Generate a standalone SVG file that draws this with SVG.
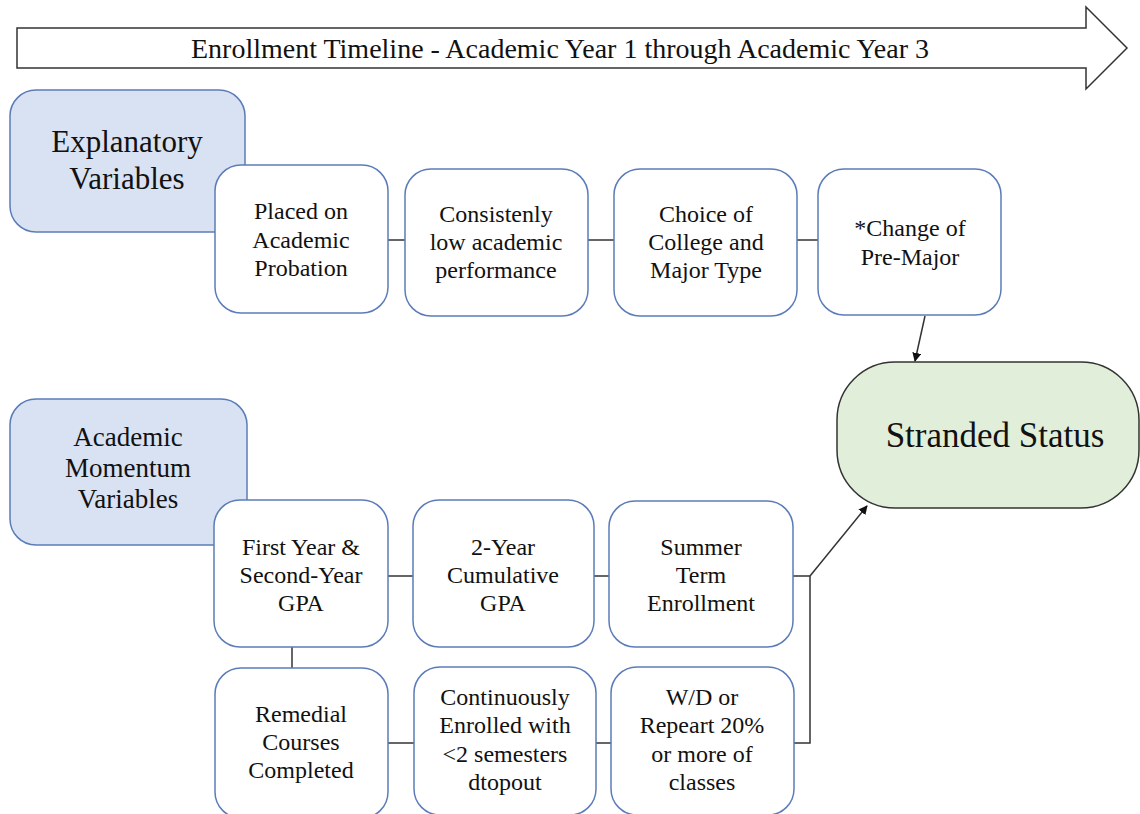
<svg xmlns="http://www.w3.org/2000/svg" width="1140" height="814" viewBox="0 0 1140 814">
  <style>
    .lbl { font-family: "Liberation Serif", "Times New Roman", Times, serif; fill: #111; text-anchor: middle; }
    .box { fill: #ffffff; stroke: #5b7cb8; stroke-width: 1.5; }
    .head { fill: #d9e2f2; stroke: #5b7cb8; stroke-width: 1.5; }
    .goal { fill: #e1eed9; stroke: #333333; stroke-width: 1.5; }
    .link { fill: none; stroke: #333333; stroke-width: 1.5; }
  </style>
  <defs>
    <marker id="arrow" viewBox="0 0 10 10" refX="9" refY="5" markerWidth="9" markerHeight="9" orient="auto" markerUnits="userSpaceOnUse">
      <path d="M0,0 L10,5 L0,10 Z" fill="#111"/>
    </marker>
  </defs>
  <rect width="1140" height="814" fill="#ffffff"/>

  <!-- timeline arrow -->
  <g id="timeline">
    <path d="M17,28 H1086 V7 L1127,48 L1086,89 V68 H17 Z" fill="#ffffff" stroke="#333" stroke-width="1.5"/>
    <text class="lbl" x="560" y="58" font-size="28">Enrollment Timeline - Academic Year 1 through Academic Year 3</text>
  </g>

  <!-- connectors: plain joins between neighbouring boxes, plus two arrows into the outcome -->
  <g id="connectors">
    <line class="link" x1="388" y1="240" x2="405" y2="240"/>
    <line class="link" x1="588" y1="240" x2="614" y2="240"/>
    <line class="link" x1="797" y1="240" x2="818" y2="240"/>
    <line class="link" x1="925" y1="316" x2="915" y2="361" marker-end="url(#arrow)"/>
    <line class="link" x1="388" y1="576" x2="413" y2="576"/>
    <line class="link" x1="594" y1="576" x2="609" y2="576"/>
    <line class="link" x1="292" y1="647" x2="292" y2="668"/>
    <line class="link" x1="388" y1="743" x2="414" y2="743"/>
    <line class="link" x1="596" y1="743" x2="611" y2="743"/>
    <polyline class="link" points="793,576 810,576 810,743 794,743"/>
    <line class="link" x1="810" y1="576" x2="867" y2="506" marker-end="url(#arrow)"/>
  </g>

  <g id="explanatory">
    <rect class="head" x="10" y="90" width="235" height="142" rx="26"/>
    <text class="lbl" x="127" y="152" font-size="31">Explanatory</text>
    <text class="lbl" x="127" y="189" font-size="31">Variables</text>
  </g>

  <g id="probation">
    <rect class="box" x="215" y="165" width="173" height="148" rx="26"/>
    <text class="lbl" x="301" y="219" font-size="24">Placed on</text>
    <text class="lbl" x="301" y="248" font-size="24">Academic</text>
    <text class="lbl" x="301" y="276" font-size="24">Probation</text>
  </g>

  <g id="low-performance">
    <rect class="box" x="405" y="169" width="183" height="147" rx="26"/>
    <text class="lbl" x="496" y="222" font-size="24">Consistenly</text>
    <text class="lbl" x="496" y="250" font-size="24">low academic</text>
    <text class="lbl" x="496" y="278" font-size="24">performance</text>
  </g>

  <g id="college-major">
    <rect class="box" x="614" y="169" width="183" height="147" rx="26"/>
    <text class="lbl" x="706" y="222" font-size="24">Choice of</text>
    <text class="lbl" x="706" y="250" font-size="24">College and</text>
    <text class="lbl" x="706" y="278" font-size="24">Major Type</text>
  </g>

  <g id="pre-major">
    <rect class="box" x="818" y="169" width="183" height="146" rx="26"/>
    <text class="lbl" x="910" y="236" font-size="24">*Change of</text>
    <text class="lbl" x="910" y="265" font-size="24">Pre-Major</text>
  </g>

  <g id="stranded">
    <rect class="goal" x="837" y="362" width="302" height="146" rx="58"/>
    <text class="lbl" x="995" y="447" font-size="35">Stranded Status</text>
  </g>

  <g id="momentum">
    <rect class="head" x="10" y="399" width="237" height="146" rx="26"/>
    <text class="lbl" x="128" y="446" font-size="27">Academic</text>
    <text class="lbl" x="128" y="477" font-size="27">Momentum</text>
    <text class="lbl" x="128" y="508" font-size="27">Variables</text>
  </g>

  <g id="year-gpa">
    <rect class="box" x="214" y="500" width="174" height="147" rx="26"/>
    <text class="lbl" x="301" y="555" font-size="24">First Year &amp;</text>
    <text class="lbl" x="301" y="583" font-size="24">Second-Year</text>
    <text class="lbl" x="301" y="611" font-size="24">GPA</text>
  </g>

  <g id="cumulative-gpa">
    <rect class="box" x="413" y="500" width="181" height="147" rx="26"/>
    <text class="lbl" x="503" y="555" font-size="24">2-Year</text>
    <text class="lbl" x="503" y="583" font-size="24">Cumulative</text>
    <text class="lbl" x="503" y="611" font-size="24">GPA</text>
  </g>

  <g id="summer">
    <rect class="box" x="609" y="501" width="184" height="146" rx="26"/>
    <text class="lbl" x="701" y="555" font-size="24">Summer</text>
    <text class="lbl" x="701" y="583" font-size="24">Term</text>
    <text class="lbl" x="701" y="611" font-size="24">Enrollment</text>
  </g>

  <g id="remedial">
    <rect class="box" x="215" y="668" width="173" height="150" rx="26"/>
    <text class="lbl" x="301" y="722" font-size="24">Remedial</text>
    <text class="lbl" x="301" y="750" font-size="24">Courses</text>
    <text class="lbl" x="301" y="778" font-size="24">Completed</text>
  </g>

  <g id="continuous">
    <rect class="box" x="414" y="667" width="182" height="148" rx="26"/>
    <text class="lbl" x="505" y="705" font-size="24">Continuously</text>
    <text class="lbl" x="505" y="733" font-size="24">Enrolled with</text>
    <text class="lbl" x="505" y="762" font-size="24">&lt;2 semesters</text>
    <text class="lbl" x="505" y="790" font-size="24">dtopout</text>
  </g>

  <g id="withdraw">
    <rect class="box" x="611" y="667" width="183" height="148" rx="26"/>
    <text class="lbl" x="702" y="705" font-size="24">W/D or</text>
    <text class="lbl" x="702" y="733" font-size="24">Repeart 20%</text>
    <text class="lbl" x="702" y="762" font-size="24">or more of</text>
    <text class="lbl" x="702" y="790" font-size="24">classes</text>
  </g>
</svg>
